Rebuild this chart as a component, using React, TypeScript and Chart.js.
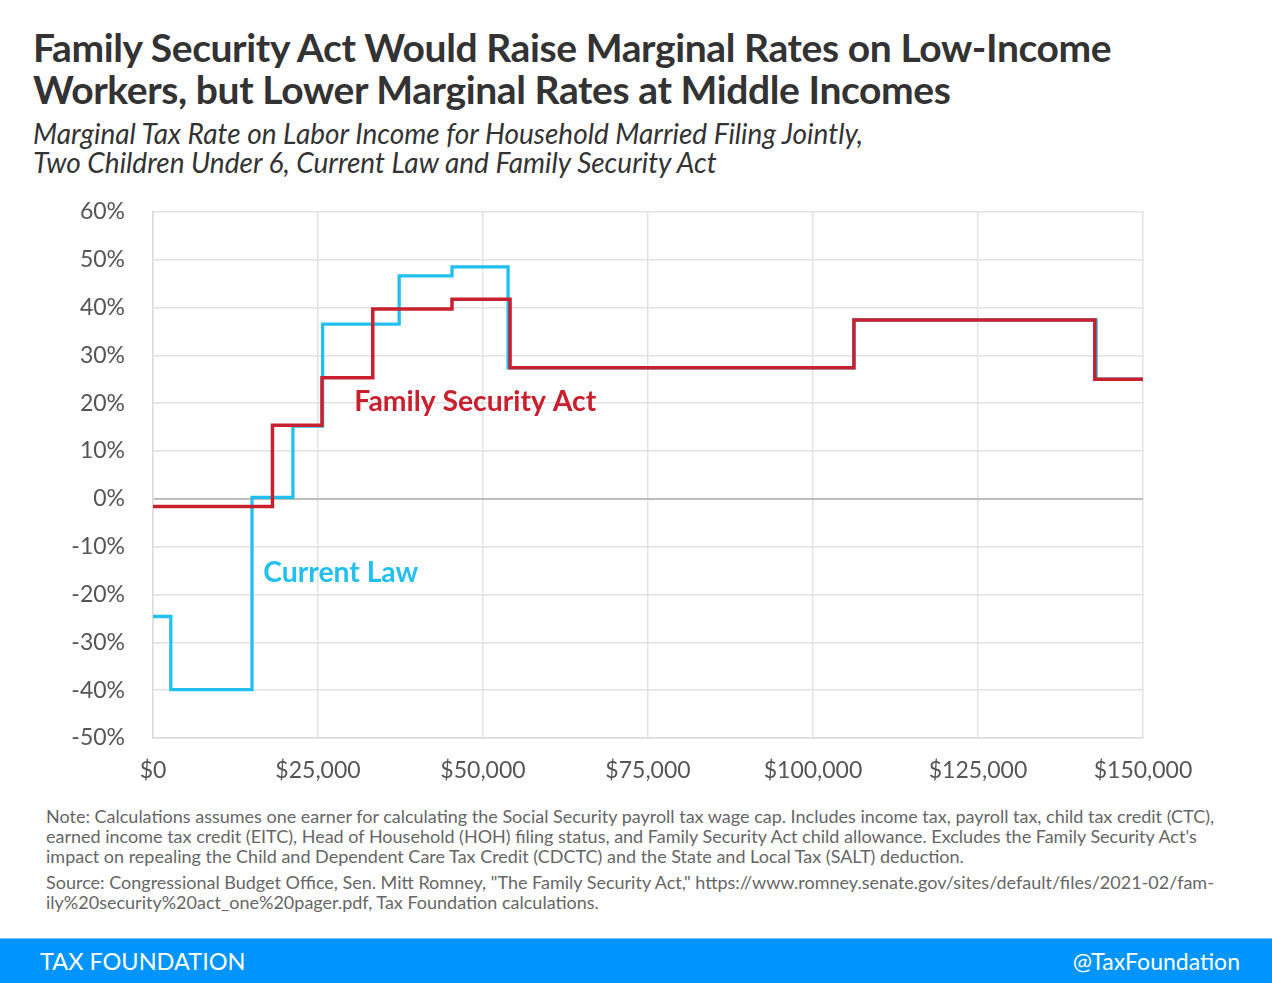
import React, { useEffect, useRef } from "react";
import { Chart, registerables } from "chart.js";

Chart.register(...registerables);

const currentLawIncome = [0, 2700, 15000, 21200, 25700, 37300, 45300, 53800, 106200, 142900, 150000];
const currentLawRate = [-24.6, -39.9, 0.3, 15.2, 36.5, 46.6, 48.5, 27.4, 37.4, 25.0, 25.0];

const fsaIncome = [0, 18100, 25600, 33300, 45300, 54100, 106200, 142700, 150000];
const fsaRate = [-1.6, 15.4, 25.3, 39.7, 41.7, 27.4, 37.4, 25.0, 25.0];

const xTicks = [0, 25000, 50000, 75000, 100000, 125000, 150000];
const yTicks = [-50, -40, -30, -20, -10, 0, 10, 20, 30, 40, 50, 60];

const labels = [
  { text: "Family Security Act", x: 30500, y: 20.2, color: "#C8202F" },
  { text: "Current Law", x: 16700, y: -15.4, color: "#22C0EE" },
];

const BLUE = "#22C0EE";
const RED = "#C8202F";

const labelPlugin = {
  id: "seriesLabels",
  afterDatasetsDraw(chart: any) {
    const { ctx, scales } = chart;
    ctx.save();
    ctx.font = "bold 28.3px Lato";
    ctx.textBaseline = "middle";
    ctx.textAlign = "left";
    labels.forEach((l) => {
      ctx.fillStyle = l.color;
      ctx.fillText(l.text, scales.x.getPixelForValue(l.x), scales.y.getPixelForValue(l.y));
    });
    ctx.restore();
  },
};

export default function App() {
  const ref = useRef<HTMLCanvasElement>(null);

  useEffect(() => {
    if (!ref.current) return;
    const chart = new Chart(ref.current, {
      type: "line",
      data: {
        datasets: [
          {
            label: "Family Security Act",
            data: fsaIncome.map((x, i) => ({ x, y: fsaRate[i] })),
            borderColor: RED,
            borderWidth: 3.5,
            stepped: true,
            pointRadius: 0,
            fill: false,
            order: 1,
          },
          {
            label: "Current Law",
            data: currentLawIncome.map((x, i) => ({ x, y: currentLawRate[i] })),
            borderColor: BLUE,
            borderWidth: 3.3,
            stepped: true,
            pointRadius: 0,
            fill: false,
            order: 2,
          },
        ],
      },
      options: {
        animation: false,
        responsive: false,
        maintainAspectRatio: false,
        layout: { padding: { top: 1, right: 129, left: 0, bottom: 0 } },
        plugins: {
          legend: { display: false },
          tooltip: { enabled: false },
        },
        scales: {
          x: {
            type: "linear",
            min: 0,
            max: 150000,
            afterBuildTicks: (s: any) => {
              s.ticks = xTicks.map((v) => ({ value: v }));
            },
            afterFit: (s: any) => {
              s.height = 60;
            },
            grid: { color: "#e2e2e2", lineWidth: 1.5, drawTicks: false },
            border: { color: "#dcdcdc", width: 1.5 },
            ticks: {
              padding: 19,
              color: "#555",
              font: { family: "Lato", size: 23 },
              maxRotation: 0,
              callback: (v: any) => "$" + Number(v).toLocaleString("en-US"),
            },
          },
          y: {
            min: -50,
            max: 60,
            afterBuildTicks: (s: any) => {
              s.ticks = yTicks.map((v) => ({ value: v }));
            },
            afterFit: (s: any) => {
              s.width = 153;
            },
            grid: {
              color: (c: any) => (c.tick && c.tick.value === 0 ? "#bdbdbd" : "#e2e2e2"),
              lineWidth: (c: any) => (c.tick && c.tick.value === 0 ? 2 : 1.5),
              drawTicks: false,
            },
            border: { color: "#dcdcdc", width: 1.5 },
            ticks: {
              padding: 28,
              color: "#555",
              font: { family: "Lato", size: 23 },
              callback: (v: any) => v + "%",
            },
          },
        },
      },
      plugins: [labelPlugin],
    });
    return () => chart.destroy();
  }, []);

  const noteStyle: React.CSSProperties = {
    position: "absolute",
    left: 46,
    fontFamily: "Lato",
    fontSize: 18,
    lineHeight: "20px",
    color: "#666",
    whiteSpace: "nowrap",
  };

  return (
    <div
      style={{
        position: "absolute",
        left: 0,
        top: 0,
        width: 1272,
        height: 983,
        background: "#fff",
        overflow: "hidden",
        fontFamily: "Lato",
      }}
    >
      <div
        style={{
          position: "absolute",
          left: 33,
          top: 26,
          fontSize: 39,
          fontWeight: 700,
          lineHeight: "42px",
          color: "#333",
          letterSpacing: -0.4,
          whiteSpace: "nowrap",
        }}
      >
        Family Security Act Would Raise Marginal Rates on Low-Income
        <br />
        Workers, but Lower Marginal Rates at Middle Incomes
      </div>
      <div
        style={{
          position: "absolute",
          left: 33,
          top: 119,
          fontSize: 28,
          fontStyle: "italic",
          lineHeight: "29px",
          color: "#333",
          whiteSpace: "nowrap",
        }}
      >
        Marginal Tax Rate on Labor Income for Household Married Filing Jointly,
        <br />
        Two Children Under 6, Current Law and Family Security Act
      </div>
      <canvas
        ref={ref}
        width={1272}
        height={628}
        style={{ position: "absolute", left: 0, top: 170, width: 1272, height: 628 }}
      />
      <div style={{ ...noteStyle, top: 806 }}>
        Note: Calculations assumes one earner for calculating the Social Security payroll tax wage cap. Includes income tax, payroll tax, child tax credit (CTC),
        <br />
        earned income tax credit (EITC), Head of Household (HOH) filing status, and Family Security Act child allowance. Excludes the Family Security Act's
        <br />
        impact on repealing the Child and Dependent Care Tax Credit (CDCTC) and the State and Local Tax (SALT) deduction.
      </div>
      <div style={{ ...noteStyle, top: 872 }}>
        Source: Congressional Budget Office, Sen. Mitt Romney, "The Family Security Act," https://www.romney.senate.gov/sites/default/files/2021-02/fam-
        <br />
        ily%20security%20act_one%20pager.pdf, Tax Foundation calculations.
      </div>
      <div
        style={{
          position: "absolute",
          left: 0,
          top: 938,
          width: 1272,
          height: 45,
          background: "#0094FF",
          borderTop: "1px solid #7cc4ff",
          boxSizing: "border-box",
        }}
      >
        <div
          style={{
            position: "absolute",
            left: 40,
            top: 0,
            lineHeight: "44px",
            fontSize: 23.5,
            color: "#fff",
          }}
        >
          TAX FOUNDATION
        </div>
        <div
          style={{
            position: "absolute",
            right: 32,
            top: 0,
            lineHeight: "44px",
            fontSize: 23,
            color: "#fff",
          }}
        >
          @TaxFoundation
        </div>
      </div>
    </div>
  );
}
